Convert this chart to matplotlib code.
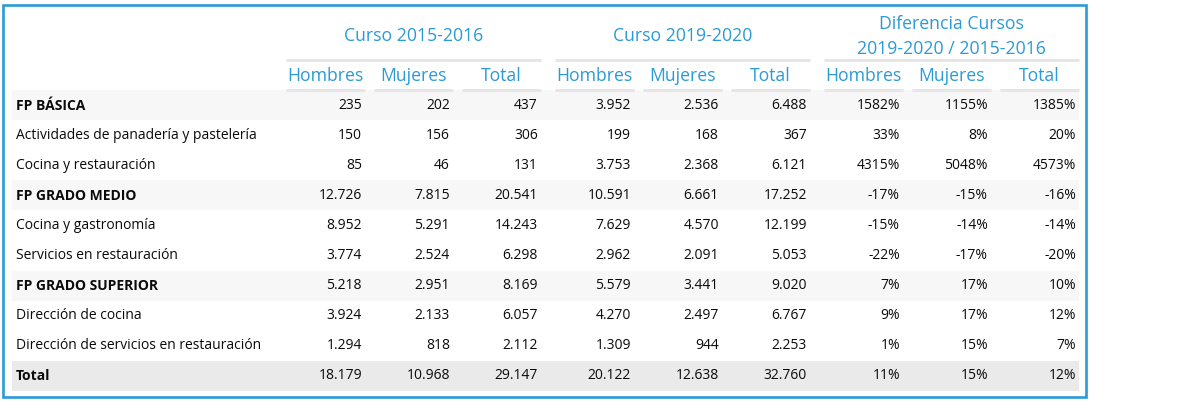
import matplotlib
matplotlib.use("Agg")
import matplotlib.pyplot as plt
from matplotlib.patches import Rectangle

plt.rcParams['font.family'] = ['Open Sans', 'DejaVu Sans']

# datos de la tabla
labels = ["FP BÁSICA", "Actividades de panadería y pastelería", "Cocina y restauración",
          "FP GRADO MEDIO", "Cocina y gastronomía", "Servicios en restauración",
          "FP GRADO SUPERIOR", "Dirección de cocina", "Dirección de servicios en restauración",
          "Total"]
row_kind = ["group", "item", "item", "group", "item", "item", "group", "item", "item", "total"]

hombres_15 = [235, 150, 85, 12726, 8952, 3774, 5218, 3924, 1294, 18179]
mujeres_15 = [202, 156, 46, 7815, 5291, 2524, 2951, 2133, 818, 10968]
total_15 = [437, 306, 131, 20541, 14243, 6298, 8169, 6057, 2112, 29147]

hombres_19 = [3952, 199, 3753, 10591, 7629, 2962, 5579, 4270, 1309, 20122]
mujeres_19 = [2536, 168, 2368, 6661, 4570, 2091, 3441, 2497, 944, 12638]
total_19 = [6488, 367, 6121, 17252, 12199, 5053, 9020, 6767, 2253, 32760]

dif_hombres = [1582, 33, 4315, -17, -15, -22, 7, 9, 1, 11]
dif_mujeres = [1155, 8, 5048, -15, -14, -17, 17, 17, 15, 15]
dif_total = [1385, 20, 4573, -16, -14, -20, 10, 12, 7, 12]

group_titles = ["Curso 2015-2016", "Curso 2019-2020", "Diferencia Cursos\n2019-2020 / 2015-2016"]
sub_titles = ["Hombres", "Mujeres", "Total"]

BLUE = "#2b9ad5"
LINE = "#e6e6e6"
TXT = "#0a0a0a"


def miles(v):
    return f"{v:,}".replace(",", ".")


def pct(v):
    return f"{v}%"


groups = [
    [hombres_15, mujeres_15, total_15],
    [hombres_19, mujeres_19, total_19],
    [dif_hombres, dif_mujeres, dif_total],
]
fmts = [miles, miles, pct]

fig = plt.figure(figsize=(11.8, 4.11), dpi=100)
ax = fig.add_axes([0, 0, 1, 1])
ax.set_xlim(0, 1180)
ax.set_ylim(411, 0)
ax.axis("off")

# marco exterior
ax.add_patch(Rectangle((3, 5), 1083, 392, fill=False, edgecolor=BLUE, lw=1.9))

row_top = 90.5
row_h = 30
band_left, band_right = 12, 1079
group_x = [286, 555, 824]
cell_w, cell_step = 79, 88

fs_body = 10.0
fs_head = 12.7

# cabeceras
for g, title in enumerate(group_titles):
    x0 = group_x[g]
    gw = 2 * cell_step + cell_w
    ax.plot([x0, x0 + gw], [60, 60], color=LINE, lw=2.2, solid_capstyle="butt")
    if "\n" in title:
        l1, l2 = title.split("\n")
        ax.text(x0 + gw / 2, 24, l1, ha="center", va="center", color=BLUE, fontsize=fs_head)
        ax.text(x0 + gw / 2, 49, l2, ha="center", va="center", color=BLUE, fontsize=fs_head)
    else:
        ax.text(x0 + gw / 2, 36, title, ha="center", va="center", color=BLUE, fontsize=fs_head)
    for c, st in enumerate(sub_titles):
        cx = x0 + c * cell_step
        ax.plot([cx, cx + cell_w], [90, 90], color=LINE, lw=2.2, solid_capstyle="butt")
        ax.text(cx + cell_w / 2, 76, st, ha="center", va="center", color=BLUE, fontsize=fs_head)

# filas
for i, lab in enumerate(labels):
    y0 = row_top + i * row_h
    yc = y0 + row_h / 2
    kind = row_kind[i]
    if kind == "group":
        ax.add_patch(Rectangle((band_left, y0), band_right - band_left, row_h,
                               facecolor="#f7f7f7", edgecolor="none"))
    elif kind == "total":
        ax.add_patch(Rectangle((band_left, y0), band_right - band_left, row_h,
                               facecolor="#eaeaea", edgecolor="none"))
    ax.text(16, yc, lab, ha="left", va="center", fontsize=fs_body, color=TXT,
            fontweight="bold" if kind != "item" else "normal")
    for g, cols in enumerate(groups):
        for c, serie in enumerate(cols):
            cx = group_x[g] + c * cell_step + cell_w - 3
            ax.text(cx, yc, fmts[g](serie[i]), ha="right", va="center",
                    fontsize=fs_body, color=TXT)

fig.savefig("out.png", dpi=100)
